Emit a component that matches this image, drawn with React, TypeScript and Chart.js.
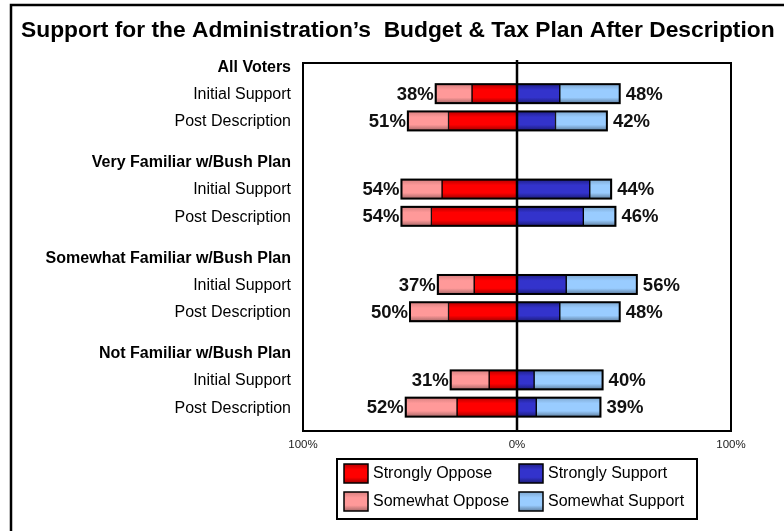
import React, { useEffect, useRef } from 'react';
import { Chart, registerables } from 'chart.js';

Chart.register(...registerables);

const TITLE = 'Support for the Administration\u2019s  Budget & Tax Plan After Description';
const GROUPS = ['All Voters', 'Very Familiar w/Bush Plan', 'Somewhat Familiar w/Bush Plan', 'Not Familiar w/Bush Plan'];
const ROWS = ['Initial Support', 'Post Description'];

const STRONGLY_OPPOSE = [21, 32, 35, 40, 20, 32, 13, 28];
const SOMEWHAT_OPPOSE = [17, 19, 19, 14, 17, 18, 18, 24];
const STRONGLY_SUPPORT = [20, 18, 34, 31, 23, 20, 8, 9];
const SOMEWHAT_SUPPORT = [28, 24, 10, 15, 33, 28, 32, 30];

const X_TICKS = [-100, 0, 100];

const SERIES_NAMES = ['Strongly Oppose', 'Strongly Support', 'Somewhat Oppose', 'Somewhat Support'];

// layout of category slots (style only)
const SLOTS_PER_GROUP = 14;
const ROW_OFFSETS = [4, 8];
const TOTAL_SLOTS = 54;

const FONT = "'Liberation Sans', Arial, Helvetica, sans-serif";

const labels: string[] = [];
const headerSlots: number[] = [];
const barSlots: number[] = [];
for (let i = 0; i < TOTAL_SLOTS; i++) labels.push('');
GROUPS.forEach((g, gi) => {
  const base = gi * SLOTS_PER_GROUP;
  labels[base] = g;
  headerSlots.push(base);
  ROWS.forEach((r, ri) => {
    labels[base + ROW_OFFSETS[ri]] = r;
    barSlots.push(base + ROW_OFFSETS[ri]);
  });
});

function spread(values: number[], sign: number) {
  const arr: (number | null)[] = new Array(TOTAL_SLOTS).fill(null);
  barSlots.forEach((s, i) => {
    arr[s] = sign * values[i];
  });
  return arr;
}

const COLORS: Record<string, [string, string, string]> = {
  'Strongly Oppose': ['#B80000', '#FF0000', '#A00000'],
  'Somewhat Oppose': ['#D88080', '#FF9999', '#A86868'],
  'Strongly Support': ['#20208A', '#3333CC', '#1C1C78'],
  'Somewhat Support': ['#7FA8D0', '#99CCFF', '#5F7FA0'],
};

const BAR_H = 19;

function makeGrad(chart: any, name: string, top: number, h: number) {
  const [c0, c1, c2] = COLORS[name];
  const g = chart.ctx.createLinearGradient(0, top, 0, top + h);
  g.addColorStop(0, c0);
  g.addColorStop(0.3, c1);
  g.addColorStop(0.7, c1);
  g.addColorStop(1, c2);
  return g;
}

function barColor(name: string) {
  return (ctx: any) => {
    const chart = ctx.chart;
    const ys = chart.scales && chart.scales.y;
    if (!ys || ctx.type !== 'data') return COLORS[name][1];
    const cy = ys.getPixelForValue(ctx.dataIndex);
    if (!isFinite(cy)) return COLORS[name][1];
    return makeGrad(chart, name, cy - BAR_H / 2, BAR_H);
  };
}

const decorPlugin = {
  id: 'decor',
  beforeDraw(chart: any) {
    const { ctx } = chart;
    ctx.save();
    ctx.fillStyle = '#fff';
    ctx.fillRect(0, 0, chart.width, chart.height);
    // outer frame
    ctx.strokeStyle = '#000';
    ctx.lineWidth = 2.5;
    ctx.strokeRect(11, 5, chart.width + 40, chart.height + 40);
    // title
    ctx.fillStyle = '#000';
    ctx.font = `bold 22.8px ${FONT}`;
    ctx.textAlign = 'left';
    ctx.textBaseline = 'middle';
    ctx.fillText(TITLE, 21, 31);
    ctx.restore();
  },
  beforeDatasetsDraw(chart: any) {
    const { ctx, chartArea: a } = chart;
    ctx.save();
    ctx.strokeStyle = '#000';
    ctx.lineWidth = 2;
    ctx.strokeRect(a.left, a.top, a.right - a.left, a.bottom - a.top);
    ctx.restore();
  },
  afterDatasetsDraw(chart: any) {
    const { ctx, chartArea: a, scales } = chart;
    const xs = scales.x;
    const ys = scales.y;
    ctx.save();
    // zero line
    const x0 = xs.getPixelForValue(0);
    ctx.strokeStyle = '#000';
    ctx.lineWidth = 2.5;
    ctx.beginPath();
    ctx.moveTo(x0, a.top - 3);
    ctx.lineTo(x0, a.bottom);
    ctx.stroke();

    // outlines and total labels
    ctx.font = `bold 18.5px ${FONT}`;
    ctx.fillStyle = '#111';
    ctx.textBaseline = 'middle';
    barSlots.forEach((slot, i) => {
      const opp = STRONGLY_OPPOSE[i] + SOMEWHAT_OPPOSE[i];
      const sup = STRONGLY_SUPPORT[i] + SOMEWHAT_SUPPORT[i];
      const y = ys.getPixelForValue(slot);
      const xl = xs.getPixelForValue(-opp);
      const xr = xs.getPixelForValue(sup);
      ctx.lineWidth = 2;
      ctx.strokeStyle = '#000';
      ctx.strokeRect(xl, y - BAR_H / 2, xr - xl, BAR_H);
      ctx.textAlign = 'right';
      ctx.fillText(`${opp}%`, xl - 2, y + 1);
      ctx.textAlign = 'left';
      ctx.fillText(`${sup}%`, xr + 6, y + 1);
    });

    // legend
    const boxW = 360;
    const boxH = 60;
    const left = x0 - boxW / 2;
    const top = a.bottom + 28;
    ctx.lineWidth = 2;
    ctx.strokeStyle = '#000';
    ctx.strokeRect(left, top, boxW, boxH);
    ctx.font = `16px ${FONT}`;
    ctx.fillStyle = '#000';
    ctx.textAlign = 'left';
    SERIES_NAMES.forEach((name, k) => {
      const col = k % 2;
      const row = Math.floor(k / 2);
      const sx = left + 7 + col * 175;
      const sy = top + 5 + row * 28;
      ctx.fillStyle = makeGrad(chart, name, sy, 19);
      ctx.fillRect(sx, sy, 24, 19);
      ctx.lineWidth = 1.5;
      ctx.strokeStyle = '#000';
      ctx.strokeRect(sx, sy, 24, 19);
      ctx.fillStyle = '#000';
      ctx.fillText(name, sx + 29, sy + 10);
    });
    ctx.restore();
  },
};

export default function App() {
  const ref = useRef<HTMLCanvasElement | null>(null);

  useEffect(() => {
    const canvas = ref.current;
    if (!canvas) return;
    const data = {
      labels,
      datasets: [
        { label: 'Strongly Oppose', data: spread(STRONGLY_OPPOSE, -1) },
        { label: 'Strongly Support', data: spread(STRONGLY_SUPPORT, 1) },
        { label: 'Somewhat Oppose', data: spread(SOMEWHAT_OPPOSE, -1) },
        { label: 'Somewhat Support', data: spread(SOMEWHAT_SUPPORT, 1) },
      ].map((d) => ({
        ...d,
        backgroundColor: barColor(d.label),
        borderColor: '#000',
        borderWidth: 1,
        borderSkipped: false,
        barThickness: BAR_H,
        stack: 'all',
      })),
    };

    const chart = new Chart(canvas, {
      type: 'bar',
      data,
      plugins: [decorPlugin],
      options: {
        indexAxis: 'y',
        responsive: false,
        animation: false,
        devicePixelRatio: 1,
        layout: { padding: { left: 0, right: 53, top: 63, bottom: 80 } },
        scales: {
          x: {
            type: 'linear',
            min: X_TICKS[0],
            max: X_TICKS[X_TICKS.length - 1],
            stacked: true,
            grid: { display: false, drawTicks: false },
            border: { display: false },
            afterBuildTicks: (s: any) => {
              s.ticks = X_TICKS.map((v) => ({ value: v }));
            },
            afterFit: (s: any) => {
              s.height = 20;
            },
            ticks: {
              autoSkip: false,
              maxRotation: 0,
              padding: 7,
              color: '#222',
              font: { family: FONT, size: 11.5 },
              callback: (v: any) => `${Math.abs(Number(v))}%`,
            },
          },
          y: {
            type: 'category',
            stacked: true,
            grid: { display: false, drawTicks: false },
            border: { display: false },
            afterFit: (s: any) => {
              s.width = 303;
            },
            ticks: {
              autoSkip: false,
              padding: 12,
              labelOffset: 1,
              color: '#000',
              font: (c: any) => ({
                family: FONT,
                size: 16,
                weight: headerSlots.includes(c.index) ? 'bold' : 'normal',
              }),
            },
          },
        },
        plugins: {
          legend: { display: false },
          tooltip: { enabled: false },
          title: { display: false },
        },
      } as any,
    });
    return () => chart.destroy();
  }, []);

  return (
    <div style={{ position: 'absolute', left: 0, top: 0, width: 784, height: 531, background: '#fff' }}>
      <canvas ref={ref} width={784} height={531} style={{ display: 'block', width: 784, height: 531 }} />
    </div>
  );
}
